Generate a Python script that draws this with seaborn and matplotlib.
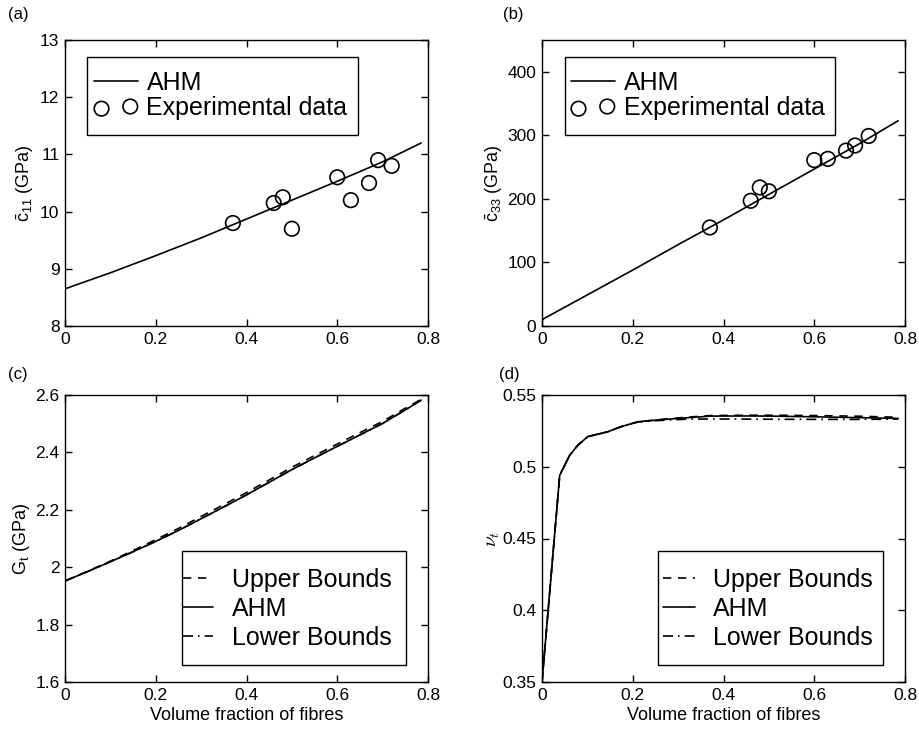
import numpy as np
import pandas as pd
import matplotlib
matplotlib.use("Agg")
import matplotlib.pyplot as plt
from matplotlib.patches import Rectangle
import seaborn as sns

# ---------------- data ----------------
exp_vf = [0.37, 0.46, 0.48, 0.50, 0.60, 0.63, 0.67, 0.69, 0.72]
exp_c11 = [9.8, 10.15, 10.25, 9.7, 10.6, 10.2, 10.5, 10.9, 10.8]
exp_c33 = [155, 197, 218, 212, 261, 263, 276, 284, 299]

ahm_vf = [0.0, 0.1, 0.2, 0.3, 0.4, 0.5, 0.6, 0.7, 0.785]
ahm_c11 = [8.65, 8.93, 9.23, 9.54, 9.87, 10.20, 10.53, 10.87, 11.20]
ahm_c33 = [10, 49, 88, 128, 167, 207, 247, 287, 323]

gt_vf = [0.0, 0.05, 0.1, 0.15, 0.2, 0.25, 0.3, 0.35, 0.4, 0.45, 0.5,
         0.55, 0.6, 0.65, 0.7, 0.75, 0.785]
gt_ahm = [1.952, 1.985, 2.019, 2.054, 2.090, 2.128, 2.169, 2.210, 2.252,
          2.296, 2.340, 2.381, 2.421, 2.461, 2.501, 2.548, 2.582]
gt_upper = [1.952, 1.986, 2.021, 2.058, 2.096, 2.135, 2.177, 2.218, 2.260,
            2.304, 2.348, 2.389, 2.429, 2.469, 2.508, 2.554, 2.585]
gt_lower = [1.952, 1.985, 2.019, 2.054, 2.090, 2.128, 2.169, 2.210, 2.252,
            2.296, 2.340, 2.381, 2.421, 2.461, 2.501, 2.548, 2.582]

nu_vf = [0.0, 0.039, 0.061, 0.079, 0.101, 0.145, 0.175, 0.212, 0.256,
         0.322, 0.373, 0.45, 0.505, 0.6, 0.7, 0.785]
nu_ahm = [0.35, 0.494, 0.508, 0.515, 0.521, 0.5244, 0.528, 0.5314, 0.5326,
          0.5342, 0.5353, 0.5354, 0.5353, 0.5348, 0.5342, 0.5337]
nu_upper = [0.35, 0.494, 0.508, 0.515, 0.521, 0.5244, 0.528, 0.5314, 0.5328,
            0.5346, 0.5357, 0.5359, 0.5359, 0.5357, 0.5352, 0.5345]
nu_lower = [0.35, 0.494, 0.508, 0.515, 0.521, 0.5244, 0.528, 0.5312, 0.5322,
            0.5332, 0.5333, 0.5332, 0.5331, 0.5330, 0.5330, 0.5332]

xticks = [0, 0.2, 0.4, 0.6, 0.8]
xticklabels = ["0", "0.2", "0.4", "0.6", "0.8"]

# ---------------- style ----------------
sns.set_theme(style="ticks")
plt.rcParams["font.family"] = ["Liberation Sans", "DejaVu Sans"]
plt.rcParams["mathtext.fontset"] = "custom"
plt.rcParams["mathtext.rm"] = "Liberation Sans"
plt.rcParams["mathtext.it"] = "Liberation Sans"
plt.rcParams["mathtext.bf"] = "Liberation Sans:bold"
plt.rcParams["axes.edgecolor"] = "black"
plt.rcParams["axes.linewidth"] = 1.0
plt.rcParams["xtick.color"] = "black"
plt.rcParams["ytick.color"] = "black"
plt.rcParams["text.color"] = "black"
plt.rcParams["axes.labelcolor"] = "black"

fig = plt.figure(figsize=(9.2, 7.33), dpi=100)
W, H = 920, 733


def make_ax(l, r, t, b):
    ax = fig.add_axes([l / W, 1 - b / H, (r - l) / W, (b - t) / H])
    ax._px = (l, r, t, b)
    return ax


ax_a = make_ax(65, 428, 40, 326)
ax_b = make_ax(542, 905, 40, 326)
ax_c = make_ax(65, 428, 395, 682)
ax_d = make_ax(542, 905, 395, 682)

LW = 1.2
TICKFS = 12.5
LEGFS = 18
LABFS = 13


def px_to_ax(ax, x, y):
    l, r, t, b = ax._px
    return (x - l) / (r - l), 1 - (y - t) / (b - t)


def legend_box(ax, x0, x1, y0, y1, hx, hy, nrows_spacing, handlelength,
               handletextpad, scatter=False):
    ax0, ay1 = px_to_ax(ax, x0, y0)
    ax1, ay0 = px_to_ax(ax, x1, y1)
    ax.add_patch(Rectangle((ax0, ay0), ax1 - ax0, ay1 - ay0,
                           transform=ax.transAxes, facecolor="white",
                           edgecolor="black", lw=1.0, zorder=4))
    ax_x, ax_y = px_to_ax(ax, hx, hy)
    kw = dict(loc="upper left", bbox_to_anchor=(ax_x, ax_y), fontsize=LEGFS,
              handlelength=handlelength, handletextpad=handletextpad,
              frameon=False, borderpad=0, labelspacing=nrows_spacing,
              borderaxespad=0)
    if scatter:
        kw["scatterpoints"] = 2
    leg = ax.legend(**kw)
    leg.set_zorder(5)
    return leg


# (a)
sns.lineplot(x=ahm_vf, y=ahm_c11, ax=ax_a, color="black", lw=LW, label="AHM",
             estimator=None, sort=False)
sns.scatterplot(x=exp_vf, y=exp_c11, ax=ax_a, marker="o", s=110,
                facecolors="none", edgecolor="black", linewidth=1.2,
                label="Experimental data")
ax_a.set_ylim(8, 13)
ax_a.set_yticks([8, 9, 10, 11, 12, 13])
ax_a.set_ylabel(r"$\bar{\mathrm{c}}_{11}$ (GPa)", fontsize=LABFS, labelpad=3)

# (b)
sns.lineplot(x=ahm_vf, y=ahm_c33, ax=ax_b, color="black", lw=LW, label="AHM",
             estimator=None, sort=False)
sns.scatterplot(x=exp_vf, y=exp_c33, ax=ax_b, marker="o", s=110,
                facecolors="none", edgecolor="black", linewidth=1.2,
                label="Experimental data")
ax_b.set_ylim(0, 450)
ax_b.set_yticks([0, 100, 200, 300, 400])
ax_b.set_ylabel(r"$\bar{\mathrm{c}}_{33}$ (GPa)", fontsize=LABFS, labelpad=2)

legend_box(ax_a, 87, 358, 57, 135, 94, 71, 0.05, 1.75, 0.35, scatter=True)
legend_box(ax_b, 565, 835, 57, 135, 571, 71, 0.05, 1.75, 0.35, scatter=True)

# (c)
sns.lineplot(x=gt_vf, y=gt_upper, ax=ax_c, color="black", lw=LW, ls=(0, (5, 4)),
             label="Upper Bounds", estimator=None, sort=False)
sns.lineplot(x=gt_vf, y=gt_ahm, ax=ax_c, color="black", lw=LW, ls="-",
             label="AHM", estimator=None, sort=False)
sns.lineplot(x=gt_vf, y=gt_lower, ax=ax_c, color="black", lw=LW,
             ls=(0, (6, 3, 1, 3)), label="Lower Bounds", estimator=None,
             sort=False)
ax_c.set_ylim(1.6, 2.6)
ax_c.set_yticks([1.6, 1.8, 2.0, 2.2, 2.4, 2.6])
ax_c.set_yticklabels(["1.6", "1.8", "2", "2.2", "2.4", "2.6"])
ax_c.set_ylabel(r"$\mathrm{G}_{\mathrm{t}}$ (GPa)", fontsize=LABFS, labelpad=2)

# (d)
sns.lineplot(x=nu_vf, y=nu_upper, ax=ax_d, color="black", lw=LW, ls=(0, (5, 4)),
             label="Upper Bounds", estimator=None, sort=False)
sns.lineplot(x=nu_vf, y=nu_ahm, ax=ax_d, color="black", lw=LW, ls="-",
             label="AHM", estimator=None, sort=False)
sns.lineplot(x=nu_vf, y=nu_lower, ax=ax_d, color="black", lw=LW,
             ls=(0, (6, 3, 1, 3)), label="Lower Bounds", estimator=None,
             sort=False)
ax_d.set_ylim(0.35, 0.55)
ax_d.set_yticks([0.35, 0.4, 0.45, 0.5, 0.55])
ax_d.set_yticklabels(["0.35", "0.4", "0.45", "0.5", "0.55"])
ax_d.set_ylabel(r"$\nu_t$", fontsize=14, labelpad=0, math_fontfamily="cm")

for ax in (ax_c, ax_d):
    ax.set_xlabel("Volume fraction of fibres", fontsize=LABFS, labelpad=3)

legend_box(ax_c, 182, 406, 551, 665, 183, 568, 0.2, 1.2, 0.76)
legend_box(ax_d, 658, 883, 551, 665, 663, 568, 0.2, 1.28, 0.72)

for ax in (ax_a, ax_b, ax_c, ax_d):
    ax.set_xlim(0, 0.8)
    ax.set_xticks(xticks)
    ax.set_xticklabels(xticklabels)
    ax.tick_params(direction="in", top=True, right=True, length=5, width=1,
                   labelsize=TICKFS, pad=4)
    for s in ax.spines.values():
        s.set_visible(True)
        s.set_color("black")
        s.set_zorder(6)

fig.text(8 / W, 1 - 14 / H, "(a)", fontsize=12, va="center", ha="left")
fig.text(503 / W, 1 - 14 / H, "(b)", fontsize=12, va="center", ha="left")
fig.text(8 / W, 1 - 375 / H, "(c)", fontsize=12, va="center", ha="left")
fig.text(499 / W, 1 - 375 / H, "(d)", fontsize=12, va="center", ha="left")

fig.savefig("out.png", dpi=100, facecolor="white")
